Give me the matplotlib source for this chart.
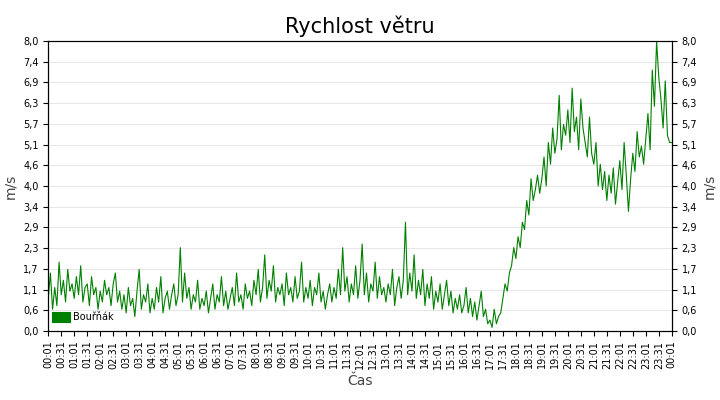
import numpy as np
import matplotlib.pyplot as plt

# wind speed, 5-minute samples (one row per hour)
speed = [
    0.9, 1.6, 0.6, 1.2, 0.7, 1.9, 1.0, 1.4, 0.8, 1.7, 1.1, 1.3,
    0.9, 1.5, 1.0, 1.8, 0.8, 1.2, 1.3, 0.7, 1.5, 1.0, 1.2, 0.6,
    1.1, 0.8, 1.4, 1.0, 1.2, 0.7, 1.3, 1.6, 0.8, 1.1, 0.6, 1.0,
    0.5, 1.2, 0.7, 0.9, 0.4, 1.1, 1.7, 0.6, 1.0, 0.8, 1.3, 0.5,
    0.9, 0.6, 1.2, 0.8, 1.5, 0.5, 0.9, 1.1, 0.6, 1.0, 1.3, 0.7,
    1.0, 2.3, 0.8, 1.6, 0.9, 1.2, 0.6, 1.0, 0.8, 1.4, 0.6, 0.9,
    0.7, 1.1, 0.5, 0.9, 1.3, 0.6, 1.0, 0.8, 1.5, 0.7, 1.1, 0.6,
    0.9, 1.2, 0.7, 1.6, 0.8, 1.0, 0.6, 1.3, 0.9, 1.1, 0.7, 1.4,
    1.0, 1.7, 0.8, 1.2, 2.1, 0.9, 1.4, 1.1, 1.8, 0.8, 1.2, 1.0,
    1.3, 0.7, 1.6, 1.0, 1.2, 0.8, 1.5, 0.9, 1.1, 1.9, 0.8, 1.2,
    0.9, 1.4, 0.7, 1.2, 1.0, 1.6, 0.8, 1.1, 0.6, 1.0, 1.3, 0.8,
    1.2, 0.9, 1.7, 1.0, 2.3, 1.1, 1.5, 0.8, 1.3, 1.0, 1.8, 0.9,
    1.4, 2.4, 1.0, 1.6, 0.8, 1.3, 1.1, 1.9, 0.9, 1.5, 1.0, 1.2,
    0.8, 1.3, 1.0, 1.7, 0.7, 1.2, 1.5, 0.9, 1.4, 3.0, 1.0, 1.6,
    1.1, 2.1, 0.9, 1.4, 1.0, 1.7, 0.7, 1.3, 0.9, 1.5, 0.6, 1.1,
    0.8, 1.3, 0.6, 1.0, 1.4, 0.7, 1.1, 0.5, 0.9, 0.6, 1.0, 0.5,
    0.7, 1.2, 0.5, 0.9, 0.4, 0.8, 0.3, 0.7, 1.1, 0.4, 0.6, 0.2,
    0.3, 0.1, 0.6, 0.2, 0.4, 0.5, 0.9, 1.3, 1.1, 1.6, 1.8, 2.3,
    2.0, 2.6, 2.3, 3.0, 2.8, 3.6, 3.2, 4.2, 3.6, 3.9, 4.3, 3.8,
    4.2, 4.8, 4.0, 5.2, 4.6, 5.6, 4.9, 5.3, 6.5, 5.0, 5.7, 5.4,
    6.1, 5.2, 6.7, 5.5, 5.9, 5.0, 6.4, 5.6, 5.2, 4.8, 5.9, 4.9,
    4.6, 5.2, 4.0, 4.6, 3.9, 4.4, 3.6, 4.3, 3.8, 4.5, 3.5, 4.1,
    4.7, 3.9, 5.2, 4.3, 3.3, 4.2, 4.9, 4.4, 5.5, 4.8, 5.1, 4.6,
    5.3, 6.0, 5.0, 7.2, 6.2, 8.0, 7.0, 6.4, 5.6, 6.9, 5.4, 5.2,
    5.2,
]
minutes = np.arange(len(speed)) * 5 + 1

tick_pos = np.arange(1, 1442, 30)
tick_labels = ["%02d:%02d" % (((p - 1) // 60) % 24, (p - 1) % 60 + 1) for p in tick_pos]
y_ticks = np.linspace(0, 8, 15)
y_labels = [("%.1f" % v).replace(".", ",") for v in y_ticks]

fig = plt.figure(figsize=(7.2, 4), dpi=100)
ax = fig.add_axes([0.067, 0.1725, 0.866, 0.725])
ax.plot(minutes, speed, color="#008000", lw=0.8, label="Bouřňák")
ax.set_xlim(1, 1441)
ax.set_ylim(0, 8)
ax.set_yticks(y_ticks)
ax.set_yticklabels(y_labels, fontsize=7)
ax.set_xticks(tick_pos)
ax.set_xticklabels(tick_labels, rotation=90, fontsize=7)
ax.grid(axis="y", color="#e6e6e6", lw=0.7)
ax.set_axisbelow(True)
ax.set_ylabel("m/s", fontsize=10, color="#444444")
ax.set_xlabel("Čas", fontsize=10, color="#444444")
ax.set_title("Rychlost větru", fontsize=15)

ax2 = ax.twinx()
ax2.set_ylim(0, 8)
ax2.set_yticks(y_ticks)
ax2.set_yticklabels(y_labels, fontsize=7)
ax2.set_ylabel("m/s", fontsize=10, color="#444444")

leg = ax.legend(loc="lower left", fontsize=7, frameon=False, handlelength=0.8,
                handleheight=0.8)
for h in leg.legend_handles:
    h.set_linewidth(8)

fig.savefig("out.png")
